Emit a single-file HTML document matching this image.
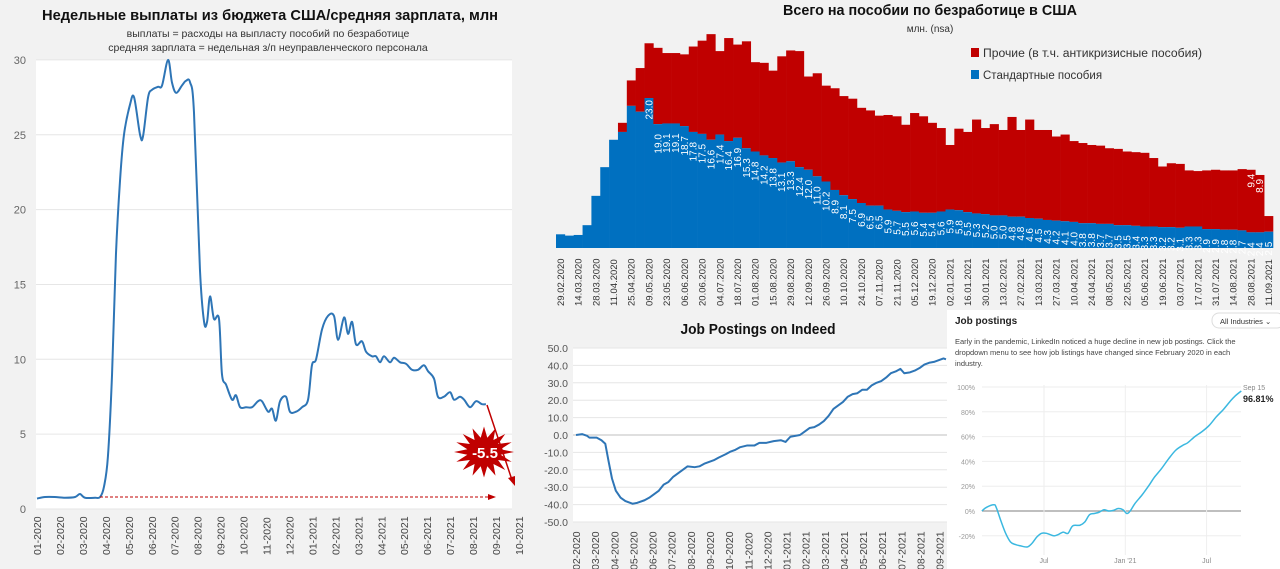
<!DOCTYPE html>
<html><head><meta charset="utf-8"><style>
body{margin:0;background:#f2f2f2;width:1280px;height:569px;overflow:hidden;font-family:"Liberation Sans","DejaVu Sans",sans-serif}
svg{display:block}
</style></head><body>
<svg id="s" width="1280" height="569" viewBox="0 0 1280 569" xmlns="http://www.w3.org/2000/svg">
<rect x="0" y="0" width="1280" height="569" fill="#f2f2f2"/>
<g>
<text x="270" y="20" text-anchor="middle" font-size="15" font-weight="bold" fill="#111" textLength="456" lengthAdjust="spacingAndGlyphs">Недельные выплаты из бюджета США/средняя зарплата, млн</text>
<text x="268" y="37" text-anchor="middle" font-size="10.5" fill="#333">выплаты = расходы на выпласту пособий по безработице</text>
<text x="268" y="51" text-anchor="middle" font-size="10.5" fill="#333">средняя зарплата = недельная з/п неуправленческого персонала</text>
<rect x="36" y="60" width="476" height="449" fill="#fff"/>
<g id="lgrid"></g><g id="lax"></g><g id="lline"></g>
<g>
<line x1="100" y1="497" x2="490" y2="497" stroke="#c00000" stroke-width="1" stroke-dasharray="3,2"/>
<polygon points="496,497 488,494 488,500" fill="#c00000"/>
<line x1="487" y1="405" x2="512" y2="480" stroke="#c00000" stroke-width="1.5"/>
<polygon points="515,486 508,478 515,476" fill="#c00000"/>
<polygon id="star" fill="#c00000"/>
<text x="485" y="458" text-anchor="middle" font-size="15" font-weight="bold" fill="#fff">-5.5</text>
</g>
</g>
<g>
<text x="930" y="15" text-anchor="middle" font-size="15" font-weight="bold" fill="#111" textLength="294" lengthAdjust="spacingAndGlyphs">Всего на пособии по безработице в США</text>
<text x="930" y="32" text-anchor="middle" font-size="10" fill="#333">млн. (nsa)</text>
<rect x="971" y="48" width="8" height="9" fill="#c00000"/>
<text x="983" y="57" font-size="11.5" fill="#333" textLength="219" lengthAdjust="spacingAndGlyphs">Прочие (в т.ч. антикризисные пособия)</text>
<rect x="971" y="70" width="8" height="9" fill="#0070c0"/>
<text x="983" y="79" font-size="11.5" fill="#333">Стандартные пособия</text>
<g id="bars"></g><g id="barlab"></g><g id="barx"></g>
</g>
<g>
<text x="758" y="334" text-anchor="middle" font-size="15" font-weight="bold" fill="#111" textLength="155" lengthAdjust="spacingAndGlyphs">Job Postings on Indeed</text>
<rect x="573" y="348" width="374" height="174" fill="#fff"/>
<g id="igrid"></g><g id="iline"></g>
</g>
<g>
<rect x="947" y="310" width="333" height="259" fill="#fff"/>
<text x="955" y="324" font-size="10" font-weight="bold" fill="#222">Job postings</text>
<rect x="1212" y="313" width="72" height="15" rx="7" fill="#fff" stroke="#ddd"/>
<text x="1220" y="324" font-size="7.5" fill="#333">All Industries ⌄</text>
<text font-size="7.5" fill="#444"><tspan x="955" y="344">Early in the pandemic, LinkedIn noticed a huge decline in new job postings. Click the</tspan><tspan x="955" y="355">dropdown menu to see how job listings have changed since February 2020 in each</tspan><tspan x="955" y="366">industry.</tspan></text>
<g id="lgrid2"></g><g id="lnline"></g>
<text x="1243" y="390" font-size="7" fill="#888">Sep 15</text>
<text x="1243" y="402" font-size="9" font-weight="bold" fill="#222">96.81%</text>
</g>
</svg>
<script>
const NS="http://www.w3.org/2000/svg";
function mk(p,t,a){const e=document.createElementNS(NS,t);for(const k in a)e.setAttribute(k,a[k]);p.appendChild(e);return e;}
const leftMonths=[0,0.35,0.78,1.22,1.66,1.87,2.09,2.53,2.75,2.92,3.09,3.27,3.44,3.62,3.79,4.05,4.23,4.49,4.62,4.84,5.01,5.27,5.45,5.71,5.88,6.06,6.32,6.49,6.67,6.84,7.10,7.28,7.41,7.54,7.71,7.93,8.06,8.24,8.50,8.67,8.85,9.11,9.37,9.63,9.80,10.07,10.24,10.41,10.59,10.85,11.02,11.29,11.55,11.81,11.98,12.16,12.42,12.68,12.94,13.12,13.38,13.55,13.73,13.90,14.16,14.34,14.60,14.77,14.95,15.12,15.38,15.56,15.82,16.08,16.34,16.60,16.86,17.04,17.30,17.47,17.73,18.00,18.17,18.43,18.61,18.87,19.13,19.39,19.56];
const leftValues=[0.7,0.8,0.8,0.75,0.8,1.0,0.75,0.75,0.8,1.5,3.5,9,17,22,25,27,27.5,25,24.9,27.5,28,28.2,28.3,30,28.5,27.8,28.3,28.6,28.5,26.5,16,12.5,12.5,14.2,12.7,12.7,9,8.3,7.3,7.6,6.8,6.8,6.8,7.2,7.2,6.5,6.7,5.9,7.2,7.5,6.5,6.5,6.8,7.3,9.6,10,12,12.9,12.9,11.3,12.8,11.7,12.5,11,11.2,10.5,10.2,10.2,9.8,10.2,9.8,10.1,9.8,9.7,9.3,9.3,9.6,9.2,8.7,7.5,7.5,7.8,7.3,7.5,7.3,6.8,7.2,7.0,7.0];
const leftTicks=[0,5,10,15,20,25,30];
const leftMonthLabels=["01-2020","02-2020","03-2020","04-2020","05-2020","06-2020","07-2020","08-2020","09-2020","10-2020","11-2020","12-2020","01-2021","02-2021","03-2021","04-2021","05-2021","06-2021","07-2021","08-2021","09-2021","10-2021"];
const barDates=["29.02.2020","14.03.2020","28.03.2020","11.04.2020","25.04.2020","09.05.2020","23.05.2020","06.06.2020","20.06.2020","04.07.2020","18.07.2020","01.08.2020","15.08.2020","29.08.2020","12.09.2020","26.09.2020","10.10.2020","24.10.2020","07.11.2020","21.11.2020","05.12.2020","19.12.2020","02.01.2021","16.01.2021","30.01.2021","13.02.2021","27.02.2021","13.03.2021","27.03.2021","10.04.2021","24.04.2021","08.05.2021","22.05.2021","05.06.2021","19.06.2021","03.07.2021","17.07.2021","31.07.2021","14.08.2021","28.08.2021","11.09.2021"];
const standardVals=[2.1,1.9,2.0,3.5,8.0,12.4,16.6,17.8,21.8,20.9,23.0,19.0,19.1,19.1,18.7,17.8,17.5,16.6,17.4,16.4,16.9,15.3,14.8,14.2,13.8,13.1,13.3,12.4,12.0,11.0,10.2,8.9,8.1,7.5,6.9,6.5,6.5,5.9,5.7,5.5,5.6,5.4,5.4,5.6,5.9,5.8,5.5,5.3,5.2,5.0,5.0,4.8,4.8,4.6,4.5,4.3,4.2,4.1,4.0,3.8,3.8,3.7,3.7,3.5,3.5,3.4,3.3,3.3,3.2,3.2,3.1,3.3,3.3,2.9,2.9,2.8,2.8,2.7,2.4,2.4,2.5];
const totalVals=[2.1,1.9,2.0,3.5,8.0,12.4,16.6,19.2,25.7,27.6,31.4,30.7,29.9,29.9,29.7,30.9,31.8,32.8,30.2,32.2,31.2,31.7,28.5,28.4,27.2,29.4,30.3,30.2,26.3,26.8,24.9,24.5,23.3,22.9,21.5,21.1,20.3,20.4,20.2,18.9,20.7,20.2,19.2,18.4,15.8,18.3,17.8,19.7,18.4,19.0,18.1,20.1,18.1,19.7,18.1,18.1,17.1,17.4,16.4,16.1,15.8,15.7,15.3,15.2,14.8,14.7,14.6,13.8,12.5,13.0,12.9,11.9,11.8,11.9,12.0,11.9,11.9,12.1,12.0,11.2,4.9];
const indeedMonths=[0,.33,.58,.7,1.08,1.33,1.53,1.7,1.88,2.08,2.33,2.58,2.95,3.2,3.58,3.83,4.08,4.33,4.58,4.83,5.08,5.33,5.58,5.83,6.2,6.45,6.7,6.95,7.2,7.45,7.83,8.08,8.33,8.58,8.95,9.33,9.58,9.95,10.33,10.7,10.95,11.2,11.45,11.7,11.95,12.2,12.45,12.7,12.95,13.2,13.45,13.7,13.95,14.2,14.45,14.7,14.95,15.2,15.45,15.7,15.95,16.2,16.45,16.7,16.95,17.15,17.45,17.7,17.95,18.2,18.45,18.7,18.95,19.2,19.33];
const indeedValues=[0,0.5,-0.5,-1.5,-1.5,-3,-5,-15,-25,-32,-36,-38,-39.5,-39,-37.5,-36,-34,-32,-28.5,-27,-24,-22,-20,-18,-18.5,-18,-16.5,-15.5,-14.5,-13,-11,-9.5,-8.5,-7,-6,-6,-4.5,-4.5,-3.5,-3,-4,-1,-0.5,0,2,4,4.5,6,8,11,15,17,19,22,23.5,24,26,26,28.5,30,31,33,35.5,36.5,38,35.5,36,37,38.5,40.5,41.5,42,43,44,43.5];
const indeedTicks=[-50,-40,-30,-20,-10,0,10,20,30,40,50];
const indeedMonthLabels=["02-2020","03-2020","04-2020","05-2020","06-2020","07-2020","08-2020","09-2020","10-2020","11-2020","12-2020","01-2021","02-2021","03-2021","04-2021","05-2021","06-2021","07-2021","08-2021","09-2021"];
const linkedinMonths=[-4.59,-4.24,-3.71,-3.53,-3.18,-2.83,-2.47,-2.12,-1.77,-1.24,-0.88,-0.53,-0.18,0.18,0.71,1.06,1.41,1.77,2.12,2.65,3.0,3.36,3.71,4.06,4.42,4.77,5.12,5.48,5.83,6.11,6.36,6.71,7.24,7.77,8.13,8.66,9.19,9.72,10.25,10.6,11.13,11.66,12.19,12.72,13.25,13.78,14.13,14.56];
const linkedinValues=[0,3,5,3,-8,-18,-25,-27,-28,-29,-26,-21,-18,-18,-20,-19,-17,-18,-12,-11.5,-9,-3,-2,-1,1,0,0.5,2,1,-2,0,6,13,21,27,34,42,49,53,55,60,64,69,76,82,89,93,96.8];
const linkedinTicks=[-20,0,20,40,60,80,100];
const linkedinXLabels=["Jul","Jan '21","Jul"];
const linkedinXMonths=[0,6,12];

const lx=m=>37+m*22.95, ly=v=>509-v*14.97;
const lg=document.getElementById('lgrid');
leftTicks.forEach(t=>{
  const g=mk(lg,'line',{x1:36,x2:512,y1:ly(t),y2:ly(t),stroke:'#e6e6e6','stroke-width':1});
  
  
  const tx=mk(lg,'text',{x:26,y:ly(t)+4,'text-anchor':'end','font-size':11,fill:'#666'});
  tx.textContent=t;
  
  
});
const la=document.getElementById('lax');
leftMonthLabels.forEach((l,i)=>{
  const x=lx(i);
  const tx=mk(la,'text',{x:0,y:0,transform:`translate(${x+4},555) rotate(-90)`,'font-size':10.5,fill:'#444'});
  tx.textContent=l;
  
  
});
function smooth(pts){let d=`M${pts[0][0]},${pts[0][1]}`;for(let i=0;i<pts.length-1;i++){const p0=pts[i-1]||pts[i],p1=pts[i],p2=pts[i+1],p3=pts[i+2]||p2;const c1=[p1[0]+(p2[0]-p0[0])/6,p1[1]+(p2[1]-p0[1])/6],c2=[p2[0]-(p3[0]-p1[0])/6,p2[1]-(p3[1]-p1[1])/6];d+=`C${c1[0]},${c1[1]} ${c2[0]},${c2[1]} ${p2[0]},${p2[1]}`;}return d;}
const lp=mk(document.getElementById('lline'),'path',{d:smooth(leftMonths.map((m,i)=>[lx(m),ly(leftValues[i])])),fill:'none',stroke:'#2e75b6','stroke-width':2});


(function(){const cx=484,cy=452,n=16;let p=[];for(let i=0;i<2*n;i++){const r=i%2?17:30,a=Math.PI*i/n;p.push((cx+r*Math.cos(a)).toFixed(1)+','+(cy+r*0.85*Math.sin(a)).toFixed(1));}document.getElementById('star').setAttribute('points',p.join(' '));})();
const bx0=556,bw=(1273-556)/81,by=v=>248-v*6.52;
const bg=document.getElementById('bars'),bl=document.getElementById('barlab');
standardVals.forEach((v,i)=>{
  const x=bx0+i*bw, t=Math.max(totalVals[i],v);
  const r=mk(bg,'rect',{x:x,y:by(t),width:bw+0.3,height:by(v)-by(t),fill:'#c00000'});
  
  
  const b=mk(bg,'rect',{x:x,y:by(v),width:bw+0.3,height:248-by(v),fill:'#0070c0'});
  
  
  if(i>=10){
    const tx=mk(bl,'text',{x:0,y:0,transform:`translate(${x+bw/2+3.5},${by(v)+(i==10?2:10)}) rotate(-90)`,'text-anchor':'end','font-size':10,fill:'#fff'});
    tx.textContent=v.toFixed(1);
    
    
  }
});
[[78,'9.4'],[79,'8.9']].forEach(([i,t])=>{
  const x=bx0+i*bw;
  const tx=mk(bl,'text',{x:0,y:0,transform:`translate(${x+bw/2+3.5},${by(totalVals[i])+4}) rotate(-90)`,'text-anchor':'end','font-size':10,fill:'#fff'});
  tx.textContent=t;
  
  
});
const bxg=document.getElementById('barx');
barDates.forEach((d,i)=>{
  const x=bx0+(i*2)*bw+bw/2;
  const tx=mk(bxg,'text',{x:0,y:0,transform:`translate(${x+3.5},306) rotate(-90)`,'font-size':9.5,fill:'#333'});
  tx.textContent=d;
  
  
});
const ix=m=>576+m*19.14, iy=v=>435-v*1.74;
const ig=document.getElementById('igrid');
indeedTicks.forEach(t=>{
  const g=mk(ig,'line',{x1:573,x2:947,y1:iy(t),y2:iy(t),stroke:t==0?'#bfbfbf':'#e6e6e6','stroke-width':1});
  
  
  const tx=mk(ig,'text',{x:568,y:iy(t)+4,'text-anchor':'end','font-size':10.5,fill:'#555'});
  tx.textContent=t.toFixed(1);
  
  
});
indeedMonthLabels.forEach((l,i)=>{
  const tx=mk(ig,'text',{x:0,y:0,transform:`translate(${ix(i)+4},570) rotate(-90)`,'font-size':10.5,fill:'#444'});
  tx.textContent=l;
  
  
});
const ip=mk(document.getElementById('iline'),'polyline',{points:indeedMonths.map((m,i)=>ix(m)+','+iy(indeedValues[i])).join(' '),fill:'none',stroke:'#2e75b6','stroke-width':2,'stroke-linejoin':'round'});


const kx=m=>1044+m*13.55, ky=v=>511-v*1.24;
const kg=document.getElementById('lgrid2');
linkedinTicks.forEach(t=>{
  const g=mk(kg,'line',{x1:982,x2:1241,y1:ky(t),y2:ky(t),stroke:t==0?'#999':'#eee','stroke-width':t==0?1.2:1});
  
  
  const tx=mk(kg,'text',{x:975,y:ky(t)+3,'text-anchor':'end','font-size':7,fill:'#999'});
  tx.textContent=t+'%';
  
  
});
linkedinXMonths.forEach((m,i)=>{
  const g=mk(kg,'line',{x1:kx(m),x2:kx(m),y1:385,y2:555,stroke:'#eee','stroke-width':1});
  
  
  const tx=mk(kg,'text',{x:kx(m),y:563,'text-anchor':'middle','font-size':7,fill:'#888'});
  tx.textContent=linkedinXLabels[i];
  
  
});
const kp=mk(document.getElementById('lnline'),'path',{d:smooth(linkedinMonths.map((m,i)=>[kx(m),ky(linkedinValues[i])])),fill:'none',stroke:'#3bb8e0','stroke-width':1.5});


</script>
</body></html>
